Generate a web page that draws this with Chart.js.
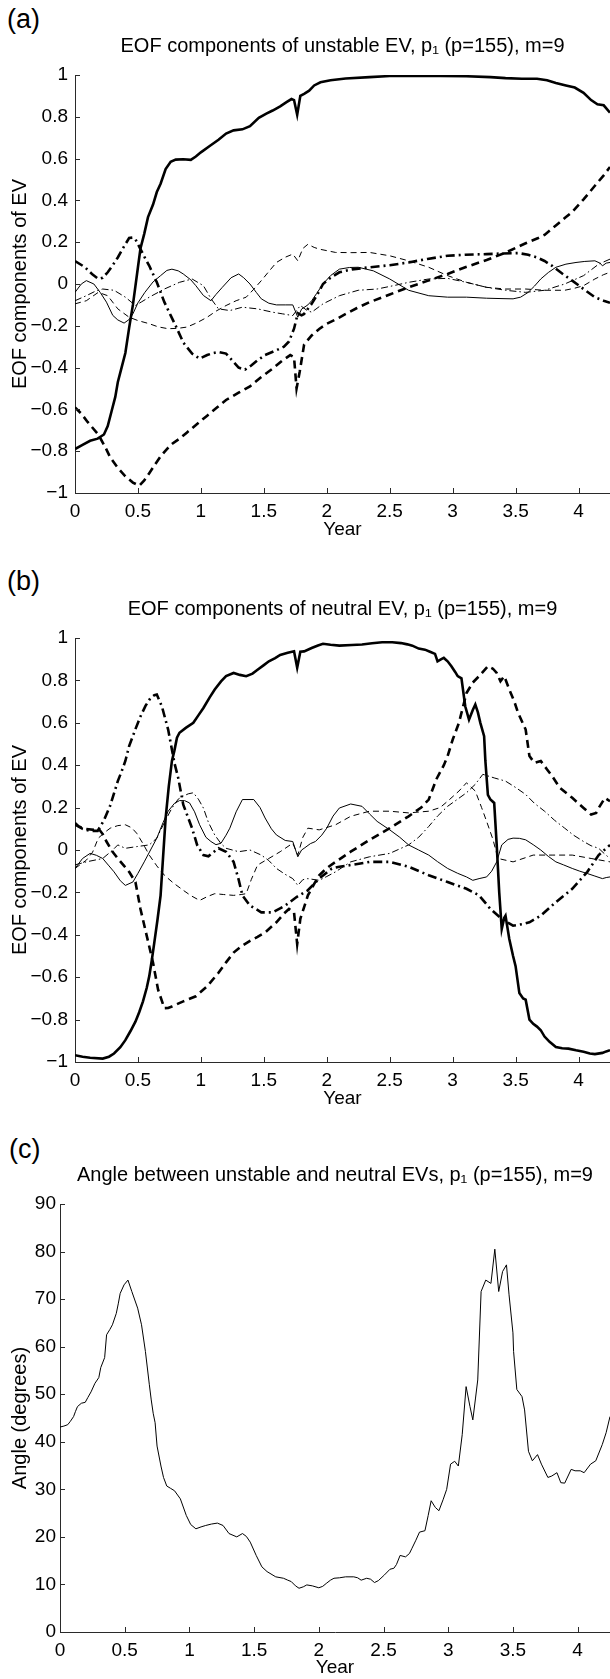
<!DOCTYPE html>
<html lang="en">
<head>
    <meta charset="UTF-8">
    <title>EOF components and angle</title>
    <script src="https://cdn.jsdelivr.net/npm/chart.js"></script>
    <style>
        body {
            margin: 0;
            background: #fff;
            overflow: hidden;
            font-family: 'Liberation Sans', Arial, sans-serif;
        }
        .page {
            position: relative;
            width: 610px;
            height: 1679px;
        }
        .page canvas, .tag {
            position: absolute;
            left: 0;
        }
        .tag {
            font-size: 27px;
            line-height: 27px;
            color: #000;
        }
    </style>
</head>
<body>
<div class="page">
    <div class="tag" style="left:7px; top:6px">(a)</div>
    <div class="tag" style="left:7px; top:568px">(b)</div>
    <div class="tag" style="left:9px; top:1136px">(c)</div>
    <canvas id="chartA" width="610" height="545" style="top:0px"></canvas>
    <canvas id="chartB" width="610" height="551" style="top:563px"></canvas>
    <canvas id="chartC" width="610" height="550" style="top:1129px"></canvas>
</div>
<script>
    // tick values
    const yearTicks = [0, 0.5, 1, 1.5, 2, 2.5, 3, 3.5, 4];
    const eofTicks = [-1, -0.8, -0.6, -0.4, -0.2, 0, 0.2, 0.4, 0.6, 0.8, 1];
    const angleTicks = [0, 10, 20, 30, 40, 50, 60, 70, 80, 90];

    // (a) unstable EV, [year, component]
    const uThickSolid = [[0,-0.79],[0.06,-0.77],[0.12,-0.75],[0.18,-0.74],[0.23,-0.72],[0.26,-0.68],[0.29,-0.61],[0.32,-0.54],[0.34,-0.47],[0.37,-0.40],[0.40,-0.33],[0.43,-0.21],[0.46,-0.10],[0.48,-0.01],[0.50,0.08],[0.52,0.17],[0.55,0.24],[0.58,0.32],[0.62,0.38],[0.65,0.44],[0.68,0.48],[0.72,0.55],[0.76,0.585],[0.80,0.595],[0.86,0.597],[0.92,0.594],[0.96,0.61],[1.0,0.63],[1.07,0.66],[1.14,0.69],[1.20,0.72],[1.26,0.735],[1.33,0.74],[1.39,0.755],[1.46,0.795],[1.52,0.815],[1.57,0.83],[1.63,0.85],[1.68,0.87],[1.72,0.885],[1.74,0.88],[1.765,0.81],[1.79,0.9],[1.82,0.91],[1.86,0.925],[1.9,0.95],[1.95,0.965],[2.03,0.975],[2.15,0.983],[2.34,0.99],[2.5,0.995],[2.65,0.997],[2.9,0.996],[3.11,0.994],[3.3,0.99],[3.42,0.985],[3.55,0.982],[3.67,0.982],[3.75,0.975],[3.82,0.962],[3.9,0.95],[3.97,0.94],[4.04,0.915],[4.1,0.88],[4.15,0.86],[4.2,0.855],[4.25,0.82]];
    const uThickDash = [[0,-0.59],[0.05,-0.62],[0.1,-0.66],[0.185,-0.72],[0.24,-0.78],[0.28,-0.83],[0.34,-0.88],[0.4,-0.92],[0.46,-0.95],[0.51,-0.965],[0.55,-0.94],[0.59,-0.905],[0.64,-0.86],[0.68,-0.825],[0.73,-0.79],[0.77,-0.765],[0.83,-0.74],[0.89,-0.71],[0.97,-0.67],[1.05,-0.63],[1.13,-0.59],[1.2,-0.555],[1.3,-0.52],[1.39,-0.49],[1.48,-0.445],[1.57,-0.405],[1.65,-0.365],[1.71,-0.34],[1.74,-0.35],[1.76,-0.5],[1.785,-0.42],[1.82,-0.29],[1.88,-0.246],[1.94,-0.215],[2.0,-0.19],[2.07,-0.17],[2.13,-0.15],[2.24,-0.115],[2.34,-0.087],[2.5,-0.05],[2.65,-0.016],[2.8,0.015],[2.96,0.048],[3.1,0.08],[3.27,0.115],[3.42,0.15],[3.58,0.195],[3.68,0.22],[3.73,0.235],[3.82,0.28],[3.9,0.32],[3.95,0.345],[4.04,0.405],[4.13,0.47],[4.2,0.52],[4.25,0.56]];
    const uThickDashDot = [[0,0.11],[0.08,0.08],[0.14,0.045],[0.185,0.025],[0.22,0.03],[0.26,0.056],[0.3,0.09],[0.34,0.127],[0.38,0.17],[0.43,0.22],[0.46,0.222],[0.48,0.214],[0.52,0.167],[0.56,0.12],[0.59,0.087],[0.65,0.008],[0.71,-0.087],[0.76,-0.15],[0.8,-0.2],[0.86,-0.28],[0.93,-0.333],[0.99,-0.357],[1.05,-0.34],[1.1,-0.33],[1.14,-0.325],[1.2,-0.333],[1.26,-0.373],[1.3,-0.4],[1.35,-0.41],[1.4,-0.39],[1.45,-0.365],[1.51,-0.34],[1.6,-0.317],[1.66,-0.3],[1.70,-0.275],[1.74,-0.214],[1.77,-0.14],[1.8,-0.15],[1.82,-0.143],[1.88,-0.095],[1.93,-0.045],[1.97,0.0],[2.03,0.03],[2.1,0.056],[2.2,0.07],[2.34,0.08],[2.5,0.09],[2.65,0.103],[2.8,0.12],[2.96,0.135],[3.1,0.14],[3.27,0.143],[3.4,0.146],[3.52,0.148],[3.6,0.14],[3.67,0.127],[3.73,0.11],[3.79,0.087],[3.87,0.05],[3.95,0.016],[4.04,-0.024],[4.13,-0.063],[4.2,-0.08],[4.25,-0.09]];
    const uThinSolid = [[0,-0.04],[0.05,0.0],[0.09,0.016],[0.15,0.0],[0.2,-0.04],[0.25,-0.087],[0.3,-0.15],[0.34,-0.172],[0.39,-0.187],[0.43,-0.17],[0.46,-0.143],[0.5,-0.09],[0.555,-0.04],[0.62,0.01],[0.68,0.04],[0.73,0.065],[0.77,0.071],[0.82,0.063],[0.86,0.048],[0.92,0.02],[0.96,-0.008],[1.02,-0.055],[1.08,-0.08],[1.12,-0.05],[1.17,-0.016],[1.24,0.03],[1.3,0.048],[1.34,0.03],[1.39,0.0],[1.44,-0.04],[1.48,-0.071],[1.54,-0.092],[1.6,-0.1],[1.67,-0.1],[1.73,-0.1],[1.77,-0.159],[1.8,-0.12],[1.85,-0.1],[1.88,-0.08],[1.92,-0.045],[1.97,0.0],[2.03,0.04],[2.1,0.071],[2.18,0.079],[2.25,0.08],[2.37,0.063],[2.5,0.024],[2.65,-0.03],[2.81,-0.056],[2.96,-0.063],[3.11,-0.063],[3.27,-0.068],[3.4,-0.07],[3.48,-0.071],[3.54,-0.063],[3.6,-0.04],[3.65,-0.01],[3.7,0.024],[3.76,0.055],[3.82,0.08],[3.9,0.095],[3.98,0.103],[4.05,0.108],[4.13,0.111],[4.17,0.1],[4.19,0.087],[4.22,0.1],[4.25,0.103]];
    const uThinDash = [[0,-0.095],[0.09,-0.08],[0.185,-0.04],[0.26,-0.056],[0.34,-0.119],[0.43,-0.159],[0.5,-0.175],[0.59,-0.19],[0.66,-0.205],[0.74,-0.214],[0.82,-0.212],[0.89,-0.206],[0.97,-0.185],[1.05,-0.159],[1.12,-0.13],[1.2,-0.103],[1.28,-0.08],[1.36,-0.063],[1.42,-0.025],[1.48,0.016],[1.54,0.06],[1.6,0.103],[1.67,0.128],[1.73,0.143],[1.77,0.111],[1.81,0.17],[1.85,0.19],[1.9,0.175],[1.94,0.167],[2.07,0.151],[2.2,0.15],[2.34,0.151],[2.5,0.135],[2.65,0.111],[2.81,0.08],[2.96,0.04],[3.11,0.008],[3.27,-0.016],[3.42,-0.024],[3.58,-0.024],[3.73,-0.03],[3.89,-0.03],[3.97,-0.02],[4.04,-0.008],[4.13,0.024],[4.2,0.045],[4.25,0.056]];
    const uThinDashDot = [[0,-0.08],[0.09,-0.056],[0.16,-0.035],[0.22,-0.024],[0.31,-0.03],[0.4,-0.063],[0.48,-0.103],[0.53,-0.085],[0.59,-0.063],[0.71,-0.024],[0.83,0.008],[0.93,0.024],[1.02,-0.008],[1.08,-0.07],[1.14,-0.119],[1.23,-0.127],[1.33,-0.111],[1.45,-0.119],[1.57,-0.135],[1.65,-0.143],[1.73,-0.151],[1.79,-0.103],[1.84,-0.125],[1.88,-0.135],[1.97,-0.095],[2.1,-0.056],[2.25,-0.03],[2.4,-0.024],[2.53,-0.008],[2.65,0.008],[2.81,0.024],[2.96,0.027],[3.11,0.008],[3.27,-0.016],[3.42,-0.03],[3.58,-0.04],[3.73,-0.03],[3.89,0.0],[4.04,0.04],[4.16,0.095],[4.25,0.119]];

    // (b) neutral EV, [year, component]
    const nThickSolid = [[0,-0.968],[0.06,-0.975],[0.12,-0.98],[0.22,-0.984],[0.27,-0.975],[0.31,-0.96],[0.36,-0.93],[0.4,-0.897],[0.44,-0.855],[0.48,-0.81],[0.51,-0.765],[0.54,-0.714],[0.57,-0.65],[0.59,-0.595],[0.61,-0.52],[0.63,-0.437],[0.655,-0.33],[0.68,-0.214],[0.7,-0.03],[0.72,0.15],[0.745,0.3],[0.77,0.42],[0.79,0.47],[0.81,0.53],[0.83,0.553],[0.88,0.576],[0.94,0.6],[0.98,0.635],[1.02,0.67],[1.07,0.72],[1.11,0.757],[1.16,0.795],[1.2,0.82],[1.26,0.835],[1.31,0.826],[1.36,0.82],[1.41,0.832],[1.45,0.85],[1.5,0.872],[1.54,0.89],[1.59,0.905],[1.63,0.92],[1.69,0.93],[1.74,0.937],[1.765,0.86],[1.79,0.935],[1.82,0.937],[1.88,0.953],[1.93,0.965],[1.97,0.973],[2.03,0.968],[2.1,0.964],[2.2,0.967],[2.28,0.969],[2.36,0.975],[2.44,0.98],[2.52,0.98],[2.59,0.976],[2.64,0.97],[2.68,0.964],[2.73,0.95],[2.78,0.945],[2.82,0.935],[2.86,0.925],[2.88,0.89],[2.91,0.9],[2.93,0.906],[2.96,0.89],[2.99,0.867],[3.02,0.84],[3.04,0.82],[3.07,0.81],[3.1,0.678],[3.13,0.615],[3.16,0.66],[3.18,0.686],[3.2,0.65],[3.22,0.6],[3.25,0.537],[3.26,0.42],[3.28,0.26],[3.3,0.238],[3.33,0.222],[3.35,0.024],[3.37,-0.2],[3.39,-0.373],[3.41,-0.32],[3.42,-0.31],[3.45,-0.42],[3.48,-0.5],[3.5,-0.548],[3.53,-0.675],[3.56,-0.7],[3.58,-0.706],[3.61,-0.8],[3.64,-0.82],[3.67,-0.833],[3.7,-0.85],[3.73,-0.88],[3.77,-0.905],[3.82,-0.929],[3.87,-0.935],[3.92,-0.937],[3.98,-0.945],[4.04,-0.952],[4.09,-0.96],[4.13,-0.963],[4.19,-0.957],[4.22,-0.95],[4.25,-0.944]];
    const nThickDash = [[0,0.127],[0.03,0.111],[0.08,0.1],[0.15,0.095],[0.185,0.103],[0.22,0.075],[0.25,0.04],[0.3,-0.01],[0.34,-0.04],[0.39,-0.075],[0.43,-0.103],[0.48,-0.151],[0.52,-0.278],[0.57,-0.405],[0.62,-0.532],[0.66,-0.659],[0.71,-0.746],[0.74,-0.745],[0.77,-0.738],[0.86,-0.714],[0.96,-0.69],[1.05,-0.643],[1.14,-0.579],[1.2,-0.53],[1.26,-0.484],[1.32,-0.455],[1.39,-0.429],[1.45,-0.41],[1.51,-0.389],[1.6,-0.341],[1.66,-0.3],[1.7,-0.278],[1.74,-0.294],[1.765,-0.444],[1.79,-0.325],[1.85,-0.214],[1.9,-0.16],[1.94,-0.119],[2.0,-0.085],[2.07,-0.056],[2.19,-0.008],[2.34,0.048],[2.5,0.103],[2.65,0.159],[2.75,0.2],[2.81,0.238],[2.87,0.333],[2.93,0.4],[2.96,0.443],[3.0,0.52],[3.05,0.6],[3.11,0.74],[3.16,0.79],[3.21,0.82],[3.28,0.867],[3.32,0.855],[3.35,0.835],[3.38,0.796],[3.41,0.82],[3.45,0.757],[3.49,0.7],[3.52,0.647],[3.58,0.568],[3.61,0.443],[3.65,0.411],[3.7,0.42],[3.75,0.38],[3.79,0.349],[3.85,0.294],[3.95,0.246],[4.04,0.198],[4.1,0.167],[4.14,0.175],[4.16,0.198],[4.21,0.246],[4.25,0.23]];
    const nThickDashDot = [[0,0.12],[0.06,0.1],[0.12,0.09],[0.18,0.09],[0.23,0.14],[0.28,0.21],[0.34,0.325],[0.37,0.37],[0.4,0.42],[0.43,0.49],[0.48,0.57],[0.52,0.63],[0.56,0.68],[0.6,0.717],[0.63,0.73],[0.65,0.733],[0.69,0.678],[0.74,0.568],[0.79,0.41],[0.82,0.34],[0.86,0.214],[0.93,0.103],[0.97,0.024],[1.02,-0.024],[1.06,-0.03],[1.1,-0.01],[1.14,0.008],[1.2,-0.008],[1.26,-0.056],[1.3,-0.14],[1.33,-0.214],[1.39,-0.262],[1.48,-0.294],[1.57,-0.294],[1.67,-0.262],[1.76,-0.222],[1.85,-0.19],[1.94,-0.135],[2.04,-0.087],[2.1,-0.079],[2.19,-0.071],[2.34,-0.056],[2.5,-0.056],[2.65,-0.079],[2.81,-0.119],[2.96,-0.151],[3.11,-0.183],[3.21,-0.214],[3.3,-0.278],[3.39,-0.325],[3.48,-0.357],[3.55,-0.35],[3.61,-0.341],[3.7,-0.31],[3.82,-0.246],[3.95,-0.183],[4.07,-0.103],[4.16,-0.024],[4.25,0.024]];
    const nThinSolid = [[0,-0.087],[0.06,-0.04],[0.12,-0.016],[0.17,-0.025],[0.22,-0.04],[0.27,-0.075],[0.31,-0.103],[0.36,-0.145],[0.4,-0.167],[0.46,-0.151],[0.5,-0.11],[0.55,-0.056],[0.6,0.0],[0.65,0.056],[0.7,0.13],[0.74,0.183],[0.79,0.22],[0.83,0.233],[0.87,0.233],[0.91,0.222],[0.95,0.18],[0.99,0.119],[1.04,0.06],[1.08,0.04],[1.12,0.025],[1.16,0.032],[1.2,0.07],[1.23,0.103],[1.28,0.18],[1.33,0.238],[1.42,0.238],[1.47,0.2],[1.51,0.151],[1.56,0.1],[1.6,0.071],[1.67,0.045],[1.73,0.04],[1.77,-0.032],[1.8,0.0],[1.82,0.008],[1.87,0.03],[1.91,0.04],[1.96,0.07],[2.0,0.103],[2.05,0.16],[2.1,0.198],[2.19,0.217],[2.28,0.206],[2.34,0.17],[2.4,0.135],[2.5,0.095],[2.58,0.06],[2.65,0.024],[2.73,0.0],[2.81,-0.024],[2.88,-0.055],[2.96,-0.087],[3.04,-0.11],[3.11,-0.127],[3.16,-0.143],[3.21,-0.135],[3.27,-0.127],[3.31,-0.1],[3.35,-0.056],[3.39,0.024],[3.44,0.05],[3.48,0.056],[3.53,0.055],[3.58,0.048],[3.64,0.025],[3.7,0.0],[3.76,-0.03],[3.82,-0.056],[3.88,-0.07],[3.95,-0.087],[4.01,-0.1],[4.07,-0.111],[4.13,-0.123],[4.19,-0.135],[4.22,-0.13],[4.25,-0.127]];
    const nThinDash = [[0,-0.087],[0.09,-0.048],[0.14,-0.01],[0.185,0.056],[0.24,0.085],[0.28,0.103],[0.34,0.115],[0.4,0.119],[0.45,0.105],[0.49,0.079],[0.54,0.03],[0.59,-0.024],[0.65,-0.075],[0.71,-0.119],[0.78,-0.155],[0.86,-0.19],[0.92,-0.215],[0.99,-0.238],[1.05,-0.22],[1.11,-0.206],[1.18,-0.21],[1.26,-0.214],[1.32,-0.21],[1.36,-0.206],[1.4,-0.14],[1.45,-0.071],[1.54,-0.04],[1.63,-0.008],[1.73,0.032],[1.77,-0.024],[1.81,0.06],[1.85,0.103],[1.94,0.095],[2.07,0.119],[2.19,0.159],[2.34,0.183],[2.5,0.183],[2.65,0.175],[2.81,0.183],[2.9,0.2],[2.96,0.23],[3.05,0.278],[3.11,0.317],[3.18,0.278],[3.23,0.2],[3.27,0.135],[3.32,0.05],[3.36,-0.04],[3.48,-0.056],[3.64,-0.024],[3.79,-0.024],[3.95,-0.024],[4.1,-0.04],[4.25,-0.056]];
    const nThinDashDot = [[0,-0.07],[0.09,-0.056],[0.22,-0.04],[0.3,0.0],[0.34,0.024],[0.4,0.008],[0.49,0.016],[0.59,0.024],[0.65,0.056],[0.71,0.13],[0.77,0.198],[0.82,0.24],[0.86,0.254],[0.9,0.265],[0.94,0.27],[0.98,0.24],[1.02,0.198],[1.06,0.13],[1.11,0.071],[1.16,0.03],[1.2,0.008],[1.3,-0.008],[1.39,0.0],[1.48,-0.024],[1.54,-0.05],[1.6,-0.087],[1.67,-0.115],[1.73,-0.135],[1.77,-0.167],[1.81,-0.14],[1.85,-0.135],[1.94,-0.143],[2.0,-0.125],[2.07,-0.103],[2.19,-0.056],[2.34,-0.032],[2.5,-0.016],[2.65,0.024],[2.73,0.06],[2.81,0.111],[2.88,0.16],[2.96,0.206],[3.04,0.24],[3.11,0.27],[3.18,0.31],[3.24,0.357],[3.33,0.34],[3.42,0.325],[3.5,0.295],[3.58,0.262],[3.65,0.22],[3.73,0.183],[3.81,0.14],[3.89,0.103],[3.96,0.07],[4.04,0.04],[4.1,0.02],[4.16,0.008],[4.21,-0.02],[4.25,-0.04]];

    // (c) angle between the two EVs, [year, degrees]
    const angleDeg = [[0,43.1],[0.03,43.3],[0.06,43.6],[0.08,44.3],[0.105,45.3],[0.12,46.4],[0.135,47.4],[0.165,48.1],[0.195,48.3],[0.215,49.3],[0.24,50.5],[0.27,52.3],[0.3,53.5],[0.315,55.6],[0.345,57.7],[0.36,62.5],[0.385,63.6],[0.405,64.6],[0.435,67],[0.45,69],[0.465,71.2],[0.495,73],[0.525,74],[0.555,71.6],[0.6,68.1],[0.63,64.6],[0.66,59],[0.69,52.1],[0.705,48.8],[0.72,46],[0.735,44],[0.75,39.1],[0.78,34.9],[0.8,32.5],[0.825,30.7],[0.855,30.2],[0.885,29.7],[0.93,28],[0.976,24.5],[1.01,22.6],[1.05,21.7],[1.09,22.1],[1.126,22.4],[1.17,22.7],[1.216,22.9],[1.26,22.4],[1.306,20.7],[1.366,20],[1.41,20.7],[1.44,20.1],[1.47,18.9],[1.516,16.1],[1.56,13.7],[1.6,12.7],[1.667,11.6],[1.727,11.3],[1.76,10.9],[1.787,10.6],[1.82,9.7],[1.847,9.2],[1.88,9.5],[1.907,9.9],[1.95,9.7],[2.0,9.3],[2.03,9.6],[2.057,10.2],[2.09,10.9],[2.117,11.3],[2.16,11.4],[2.207,11.6],[2.27,11.6],[2.3,11.4],[2.327,10.9],[2.37,11.3],[2.4,11.1],[2.43,10.4],[2.46,10.8],[2.507,12],[2.55,13.2],[2.58,13.4],[2.6,14.2],[2.628,16.1],[2.67,15.8],[2.7,16.5],[2.718,17.5],[2.75,19.3],[2.778,21],[2.82,21.3],[2.845,24.5],[2.868,27.6],[2.9,26.2],[2.928,25.5],[2.96,27.8],[2.988,30],[3.018,35.3],[3.05,35.9],[3.078,34.9],[3.108,41.5],[3.138,51.6],[3.168,47.4],[3.19,44.6],[3.21,49],[3.228,53],[3.254,71.6],[3.29,74],[3.33,73.3],[3.36,80.5],[3.39,71.6],[3.42,75.8],[3.45,77.2],[3.47,70.9],[3.5,62.9],[3.505,59],[3.53,51],[3.57,49.5],[3.59,46.7],[3.62,38],[3.65,36],[3.69,37.3],[3.72,35.3],[3.77,32.5],[3.8,32.8],[3.84,33.5],[3.87,31.4],[3.9,31.3],[3.95,34.2],[3.98,33.9],[4.02,33.9],[4.05,33.5],[4.1,35.3],[4.14,36],[4.19,39.4],[4.22,41.9],[4.25,45.3]];

    Chart.defaults.font.family = "'Liberation Sans', Arial, sans-serif";
    Chart.defaults.color = '#000';

    const THICK = 2.6, THIN = 1;
    const AXIS_COLOR = '#2a2a2a';

    function line(data, width, dash) {
        return {
            data: data,
            borderColor: '#000',
            borderWidth: width,
            borderDash: dash,
            pointRadius: 0,
            fill: false,
            tension: 0
        };
    }

    // MATLAB style tick marks pointing into the plot
    const inwardTicks = {
        id: 'inwardTicks',
        afterDatasetsDraw(chart) {
            const { ctx, chartArea, scales } = chart;
            ctx.save();
            ctx.strokeStyle = AXIS_COLOR;
            ctx.lineWidth = 1;
            ctx.beginPath();
            scales.x.ticks.forEach(t => {
                const px = Math.round(scales.x.getPixelForValue(t.value)) + 0.5;
                ctx.moveTo(px, chartArea.bottom);
                ctx.lineTo(px, chartArea.bottom - 5);
            });
            scales.y.ticks.forEach(t => {
                const py = Math.round(scales.y.getPixelForValue(t.value)) + 0.5;
                ctx.moveTo(chartArea.left, py);
                ctx.lineTo(chartArea.left + 5, py);
            });
            ctx.stroke();
            ctx.restore();
        }
    };

    const fmt = v => String(v).replace('-', '\u2212');

    function makePanel(id, opts) {
        new Chart(document.getElementById(id), {
            type: 'line',
            data: { datasets: opts.datasets },
            plugins: [inwardTicks],
            options: {
                responsive: false,
                animation: false,
                layout: { padding: 0 },
                plugins: {
                    legend: { display: false },
                    tooltip: { enabled: false },
                    title: {
                        display: true,
                        text: opts.title,
                        fullSize: false,
                        font: { size: 20, weight: 'normal' },
                        padding: { top: 34, bottom: 17 }
                    }
                },
                scales: {
                    x: {
                        type: 'linear',
                        min: 0,
                        max: 4.25,
                        afterBuildTicks: s => { s.ticks = yearTicks.map(v => ({ value: v })); },
                        afterFit: s => { s.height = opts.xAxisHeight; },
                        grid: { display: false, drawTicks: false },
                        border: { display: true, color: AXIS_COLOR, width: 1 },
                        ticks: { font: { size: 19 }, padding: 7, maxRotation: 0, autoSkip: false, callback: fmt },
                        title: { display: true, text: 'Year', font: { size: 19 }, padding: { top: 0, bottom: opts.yearPad } }
                    },
                    y: {
                        min: opts.yMin,
                        max: opts.yMax,
                        afterBuildTicks: s => { s.ticks = opts.yTicks.map(v => ({ value: v })); },
                        afterFit: s => { s.width = opts.yAxisWidth; },
                        grid: { display: false, drawTicks: false },
                        border: { display: true, color: AXIS_COLOR, width: 1 },
                        ticks: { font: { size: 19 }, padding: opts.yTickPad, autoSkip: false, callback: fmt },
                        title: { display: true, text: opts.yTitle, font: { size: 20 }, padding: { top: 8, bottom: 0 } }
                    }
                }
            }
        });
    }

    makePanel('chartA', {
        title: 'EOF components of unstable EV, p\u2081 (p=155), m=9',
        yTitle: 'EOF components of EV',
        yMin: -1, yMax: 1, yTicks: eofTicks,
        yAxisWidth: 75, yTickPad: 7, xAxisHeight: 52, yearPad: 4,
        datasets: [
            line(uThinSolid, THIN, []),
            line(uThinDash, THIN, [6, 4]),
            line(uThinDashDot, THIN, [7, 3, 1.5, 3]),
            line(uThickDashDot, THICK, [9, 4, 2, 4]),
            line(uThickDash, THICK, [8, 5]),
            line(uThickSolid, THICK, [])
        ]
    });

    makePanel('chartB', {
        title: 'EOF components of neutral EV, p\u2081 (p=155), m=9',
        yTitle: 'EOF components of EV',
        yMin: -1, yMax: 1, yTicks: eofTicks,
        yAxisWidth: 75, yTickPad: 7, xAxisHeight: 52, yearPad: 4,
        datasets: [
            line(nThinSolid, THIN, []),
            line(nThinDash, THIN, [6, 4]),
            line(nThinDashDot, THIN, [7, 3, 1.5, 3]),
            line(nThickDashDot, THICK, [9, 4, 2, 4]),
            line(nThickDash, THICK, [8, 5]),
            line(nThickSolid, THICK, [])
        ]
    });

    makePanel('chartC', {
        title: 'Angle between unstable and neutral EVs, p\u2081 (p=155), m=9',
        yTitle: 'Angle (degrees)',
        yMin: 0, yMax: 90, yTicks: angleTicks,
        yAxisWidth: 60, yTickPad: 4, xAxisHeight: 47, yearPad: 0,
        datasets: [
            line(angleDeg, 1, [])
        ]
    });
</script>
</body>
</html>
